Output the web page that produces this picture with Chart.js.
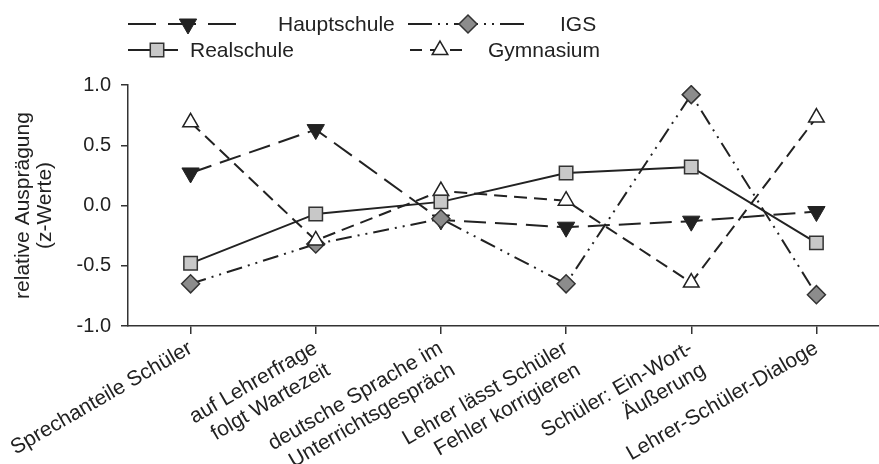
<!DOCTYPE html>
<html lang="de">
<head>
  <meta charset="UTF-8" />
  <title>Unterrichtsmerkmale nach Schulform</title>
  <script src="https://cdn.jsdelivr.net/npm/chart.js"></script>
  <style>
    html, body { margin: 0; padding: 0; background: #fff; overflow: hidden; }
    /* canvas is a bit wider than the frame so the x axis runs off the right edge */
    #frame { width: 879px; height: 464px; overflow: hidden; }
  </style>
</head>
<body>
  <div id="frame"><canvas id="zChart" width="890" height="464"></canvas></div>

  <script>
    // categories on the x axis (arrays = two-line labels)
    const categories = [
      'Sprechanteile Schüler',
      ['auf Lehrerfrage', 'folgt Wartezeit'],
      ['deutsche Sprache im', 'Unterrichtsgespräch'],
      ['Lehrer lässt Schüler', 'Fehler korrigieren'],
      ['Schüler: Ein-Wort-', 'Äußerung'],
      'Lehrer-Schüler-Dialoge'
    ];

    // z-values per school type
    const hauptschule = [0.27, 0.63, -0.12, -0.18, -0.13, -0.05];
    const realschule  = [-0.48, -0.07, 0.03, 0.27, 0.32, -0.31];
    const igs         = [-0.65, -0.32, -0.11, -0.65, 0.92, -0.74];
    const gymnasium   = [0.69, -0.29, 0.12, 0.04, -0.64, 0.73];

    const yTicks = [-1.0, -0.5, 0.0, 0.5, 1.0];

    const FONT = '"Liberation Sans", Arial, sans-serif';
    const INK = '#222';

    // hand-placed legend, two rows above the plot
    const legendItems = [
      { ds: 0, label: 'Hauptschule', x0: 128, x1: 237, mx: 188, tx: 278, y: 24, dash: [28, 12] },
      { ds: 2, label: 'IGS',         x0: 408, x1: 525, mx: 468, tx: 560, y: 24, dash: [24, 6, 2, 6, 2, 6] },
      { ds: 1, label: 'Realschule',  x0: 128, x1: 178, mx: 157, tx: 190, y: 50, dash: [] },
      { ds: 3, label: 'Gymnasium',   x0: 410, x1: 465, mx: 440, tx: 488, y: 50, dash: [12, 8] }
    ];

    const legendPlugin = {
      id: 'schoolLegend',
      afterDraw(chart) {
        const ctx = chart.ctx;
        ctx.save();
        legendItems.forEach(item => {
          const ds = chart.data.datasets[item.ds];
          ctx.strokeStyle = ds.borderColor;
          ctx.lineWidth = ds.borderWidth;
          ctx.setLineDash(item.dash);
          ctx.beginPath();
          ctx.moveTo(item.x0, item.y);
          ctx.lineTo(item.x1, item.y);
          ctx.stroke();
          ctx.setLineDash([]);

          ctx.fillStyle = ds.pointBackgroundColor;
          ctx.strokeStyle = ds.pointBorderColor;
          ctx.lineWidth = ds.pointBorderWidth;
          Chart.helpers.drawPoint(ctx, {
            pointStyle: ds.pointStyle,
            rotation: ds.pointRotation || 0,
            radius: ds.pointRadius,
            borderWidth: ds.pointBorderWidth
          }, item.mx, item.y);

          ctx.fillStyle = INK;
          ctx.font = '21px ' + FONT;
          ctx.textAlign = 'left';
          ctx.textBaseline = 'middle';
          ctx.fillText(item.label, item.tx, item.y + 1);
        });
        ctx.restore();
      }
    };

    const ctx = document.getElementById('zChart').getContext('2d');
    new Chart(ctx, {
      type: 'line',
      data: {
        labels: categories,
        datasets: [
          {
            label: 'Hauptschule',
            data: hauptschule,
            order: 3,
            borderColor: INK,
            borderWidth: 2,
            borderDash: [22, 9],
            pointStyle: 'triangle',
            pointRotation: 180,
            pointRadius: 10,
            pointBackgroundColor: INK,
            pointBorderColor: INK,
            pointBorderWidth: 1
          },
          {
            label: 'Realschule',
            data: realschule,
            order: 0,
            borderColor: INK,
            borderWidth: 2,
            pointStyle: 'rect',
            pointRadius: 9.5,
            pointBackgroundColor: '#c8c8c8',
            pointBorderColor: '#333',
            pointBorderWidth: 1.5
          },
          {
            label: 'IGS',
            data: igs,
            order: 2,
            borderColor: INK,
            borderWidth: 2,
            borderDash: [16, 6, 2, 6, 2, 6],
            pointStyle: 'rectRot',
            pointRadius: 9,
            pointBackgroundColor: '#8c8c8c',
            pointBorderColor: '#333',
            pointBorderWidth: 1.5
          },
          {
            label: 'Gymnasium',
            data: gymnasium,
            order: 1,
            borderColor: INK,
            borderWidth: 2,
            borderDash: [13, 7],
            pointStyle: 'triangle',
            pointRadius: 9,
            pointBackgroundColor: '#fff',
            pointBorderColor: INK,
            pointBorderWidth: 1.5
          }
        ]
      },
      options: {
        responsive: false,
        animation: false,
        devicePixelRatio: 1,
        layout: { padding: { top: 85, right: 0, bottom: 0, left: 0 } },
        elements: { line: { tension: 0 } },
        plugins: {
          legend: { display: false },
          tooltip: { enabled: false }
        },
        scales: {
          x: {
            offset: true,
            border: { color: '#333', width: 1.5 },
            grid: { drawOnChartArea: false, drawTicks: true, tickLength: 8, color: '#333', lineWidth: 1.5 },
            ticks: {
              color: INK,
              font: { family: FONT, size: 21 },
              minRotation: 30,
              maxRotation: 30,
              padding: 2,
              autoSkip: false
            },
            afterFit(scale) {
              scale.height = 138;
              scale.paddingLeft = 0;
              scale.paddingRight = 0;
            }
          },
          y: {
            min: -1,
            max: 1,
            border: { color: '#333', width: 1.5 },
            grid: { drawOnChartArea: false, drawTicks: true, tickLength: 7, color: '#333', lineWidth: 1.5 },
            afterBuildTicks(scale) {
              scale.ticks = yTicks.map(v => ({ value: v }));
            },
            ticks: {
              color: INK,
              font: { family: FONT, size: 20 },
              padding: 10,
              callback: v => Number(v).toFixed(1)
            },
            title: {
              display: true,
              text: ['relative Ausprägung', '(z-Werte)'],
              color: INK,
              font: { family: FONT, size: 21, lineHeight: 1.05 },
              padding: { top: 12, bottom: 0 }
            },
            afterFit(scale) {
              scale.width = 128;
            }
          }
        }
      },
      plugins: [legendPlugin]
    });
  </script>
</body>
</html>
